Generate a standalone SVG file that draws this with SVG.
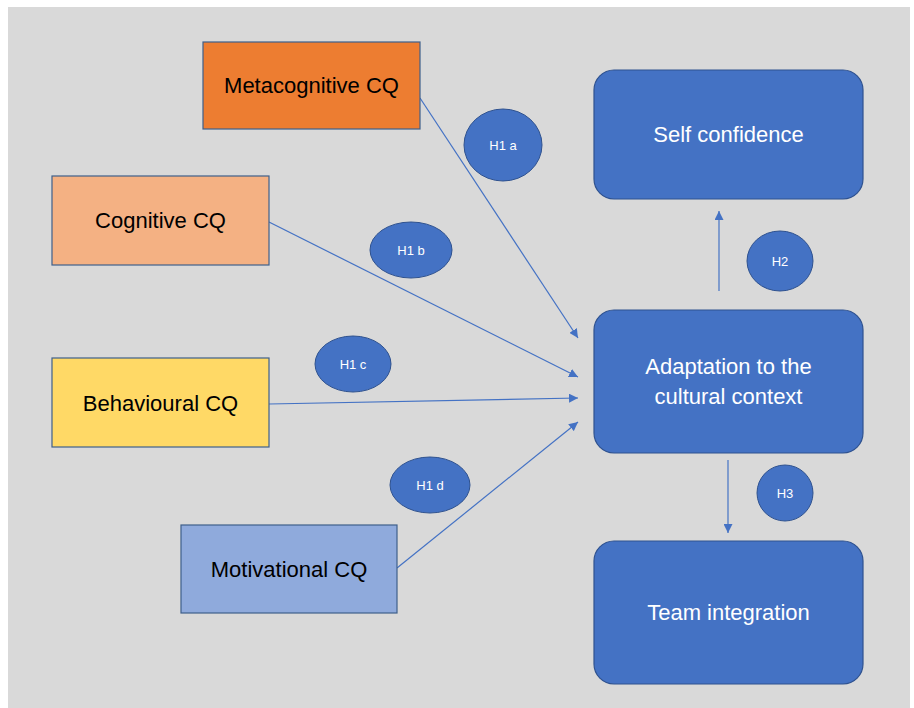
<svg xmlns="http://www.w3.org/2000/svg" width="914" height="708" viewBox="0 0 914 708">
<style>
.box{stroke:#3e5f8a;stroke-width:1.2}
.rnd{fill:#4472c4;stroke:#2f528f;stroke-width:1.2}
.ell{fill:#4472c4;stroke:#2f528f;stroke-width:1}
.t{font-family:"Liberation Sans",Arial,sans-serif;font-size:22px;text-anchor:middle;dominant-baseline:central;fill:#000}
.tw{font-family:"Liberation Sans",Arial,sans-serif;font-size:22px;text-anchor:middle;dominant-baseline:central;fill:#fff}
.ts{font-family:"Liberation Sans",Arial,sans-serif;font-size:13px;text-anchor:middle;dominant-baseline:central;fill:#fff}
.c{stroke:#4472c4;stroke-width:1.2;fill:none;marker-end:url(#ah)}
</style>
<defs>
<marker id="ah" viewBox="0 0 10 10" refX="10" refY="5" markerWidth="9" markerHeight="9" markerUnits="userSpaceOnUse" orient="auto">
<path d="M0,0 L10,5 L0,10 z" fill="#4472c4"/>
</marker>
</defs>
<rect x="0" y="0" width="914" height="708" fill="#ffffff"/>
<rect x="8" y="7" width="902" height="701" fill="#d9d9d9"/>
<g id="connectors">
<line class="c" x1="420" y1="98" x2="578" y2="338"/>
<line class="c" x1="269" y1="222" x2="578" y2="377"/>
<line class="c" x1="269" y1="404" x2="578" y2="398"/>
<line class="c" x1="397" y1="568" x2="578" y2="422"/>
<line class="c" x1="719" y1="291" x2="719" y2="211"/>
<line class="c" x1="728" y1="460" x2="728" y2="533"/>
</g>
<g id="metacognitive"><rect class="box" x="203" y="42" width="217" height="87" fill="#ed7d31"/><text class="t" x="311.5" y="85.5">Metacognitive CQ</text></g>
<g id="cognitive"><rect class="box" x="52" y="176" width="217" height="89" fill="#f4b183"/><text class="t" x="160.5" y="220.5">Cognitive CQ</text></g>
<g id="behavioural"><rect class="box" x="52" y="358" width="217" height="89" fill="#ffd966"/><text class="t" x="160.5" y="403.5">Behavioural CQ</text></g>
<g id="motivational"><rect class="box" x="181" y="525" width="216" height="88" fill="#8faadc"/><text class="t" x="289" y="569.5">Motivational CQ</text></g>
<g id="self-confidence"><rect class="rnd" x="594" y="70" width="269" height="129" rx="20"/><text class="tw" x="728.5" y="134">Self confidence</text></g>
<g id="adaptation"><rect class="rnd" x="594" y="310" width="269" height="143" rx="20"/><text class="tw" x="728.5" y="366">Adaptation to the</text><text class="tw" x="728.5" y="396">cultural context</text></g>
<g id="team-integration"><rect class="rnd" x="594" y="541" width="269" height="143" rx="20"/><text class="tw" x="728.5" y="612">Team integration</text></g>
<g id="h1a"><ellipse class="ell" cx="503" cy="145" rx="39" ry="36"/><text class="ts" x="503" y="145">H1 a</text></g>
<g id="h1b"><ellipse class="ell" cx="411" cy="250" rx="41" ry="28"/><text class="ts" x="411" y="250">H1 b</text></g>
<g id="h1c"><ellipse class="ell" cx="353" cy="364" rx="38" ry="28"/><text class="ts" x="353" y="364">H1 c</text></g>
<g id="h1d"><ellipse class="ell" cx="430" cy="485" rx="40" ry="28"/><text class="ts" x="430" y="485">H1 d</text></g>
<g id="h2"><ellipse class="ell" cx="780" cy="261" rx="33" ry="30"/><text class="ts" x="780" y="261">H2</text></g>
<g id="h3"><ellipse class="ell" cx="785" cy="493" rx="28" ry="28"/><text class="ts" x="785" y="493">H3</text></g>
</svg>
